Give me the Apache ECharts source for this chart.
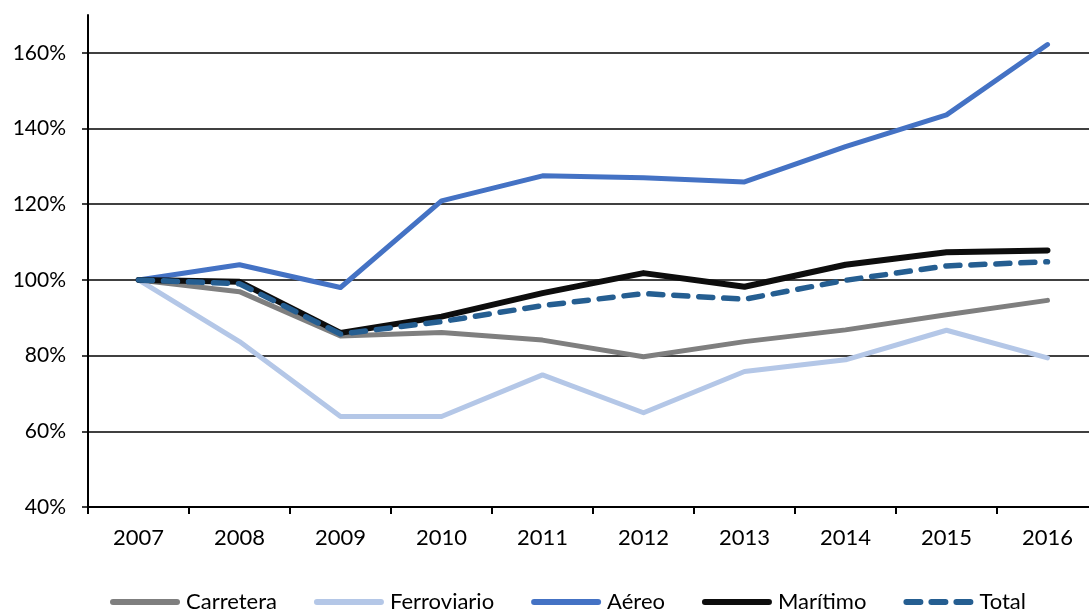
<!DOCTYPE html>
<html>
<head>
<meta charset="utf-8">
<script src="https://cdn.jsdelivr.net/npm/echarts@6/dist/echarts.min.js"></script>
<style>
  html, body { margin: 0; padding: 0; background: #fff; }
  #chart { width: 1089px; height: 613px; }
</style>
</head>
<body>
<div id="chart"></div>
<script>
// Years on the x axis
const years = ['2007', '2008', '2009', '2010', '2011', '2012', '2013', '2014', '2015', '2016'];

// Index values (2007 = 100%)
const carretera   = [100, 96.9, 85.2, 86.1, 84.1, 79.7, 83.7, 86.8, 90.8, 94.6];
const ferroviario = [100, 83.7, 63.9, 63.9, 74.9, 64.9, 75.8, 78.9, 86.7, 79.4];
const aereo       = [100, 104.0, 98.0, 120.9, 127.5, 127.0, 125.9, 135.2, 143.6, 162.2];
const maritimo    = [100, 99.5, 86.0, 90.3, 96.5, 101.8, 98.2, 104.0, 107.3, 107.8];
const total       = [100, 99.0, 85.7, 89.0, 93.2, 96.4, 94.9, 99.9, 103.7, 104.8];

// Series names
const names = ['Carretera', 'Ferroviario', 'Aéreo', 'Marítimo', 'Total'];

const font = 'Lato, "Open Sans", sans-serif';

const chart = echarts.init(document.getElementById('chart'));

function lineSeries(name, data, color, width, dashed) {
  return {
    name: name,
    type: 'line',
    data: data,
    symbol: 'none',
    showSymbol: false,
    animation: false,
    lineStyle: {
      color: color,
      width: width,
      type: dashed ? [14, 11] : 'solid',
      cap: 'round',
      join: 'round'
    },
    itemStyle: { color: color }
  };
}

chart.setOption({
  backgroundColor: '#ffffff',
  animation: false,
  // the plot runs past the right edge, so the last band is cut off
  grid: { left: 88, width: 1010, top: 15, bottom: 106, outerBoundsMode: 'none' },
  legend: {
    bottom: 0,
    left: 110,
    padding: 0,
    itemWidth: 64,
    itemHeight: 14,
    itemGap: 37,
    itemStyle: { color: 'rgba(0,0,0,0)', borderWidth: 0 },
    lineStyle: { width: 6, cap: 'round' },
    textStyle: { fontFamily: font, fontSize: 22, color: '#000', padding: [0, 0, 0, 4] },
    data: names
  },
  xAxis: {
    type: 'category',
    data: years,
    boundaryGap: true,
    axisLine: { lineStyle: { color: '#000', width: 2 } },
    axisTick: { show: true, length: 7, lineStyle: { color: '#000', width: 2 } },
    axisLabel: { color: '#000', fontFamily: font, fontSize: 22, margin: 20 },
    splitLine: { show: false }
  },
  yAxis: {
    type: 'value',
    min: 40,
    max: 170,
    interval: 20,
    axisLine: { show: true, lineStyle: { color: '#000', width: 2 } },
    axisTick: { show: true, length: 6, lineStyle: { color: '#000', width: 1.5 } },
    axisLabel: {
      color: '#000', fontFamily: font, fontSize: 21, margin: 22,
      showMaxLabel: false,
      formatter: v => (v > 160 ? '' : v + '%')
    },
    splitLine: {
      show: true,
      lineStyle: {
        color: ['#000', '#000', '#000', '#000', '#000', '#000', '#000', 'rgba(0,0,0,0)'],
        width: 1.5
      }
    }
  },
  series: [
    lineSeries(names[0], carretera, '#7f7f7f', 5, false),
    lineSeries(names[1], ferroviario, '#b4c7e7', 5, false),
    lineSeries(names[2], aereo, '#4472c4', 5, false),
    lineSeries(names[3], maritimo, '#0d0d0d', 6, false),
    lineSeries(names[4], total, '#255e91', 5.5, true)
  ]
});
</script>
</body>
</html>
